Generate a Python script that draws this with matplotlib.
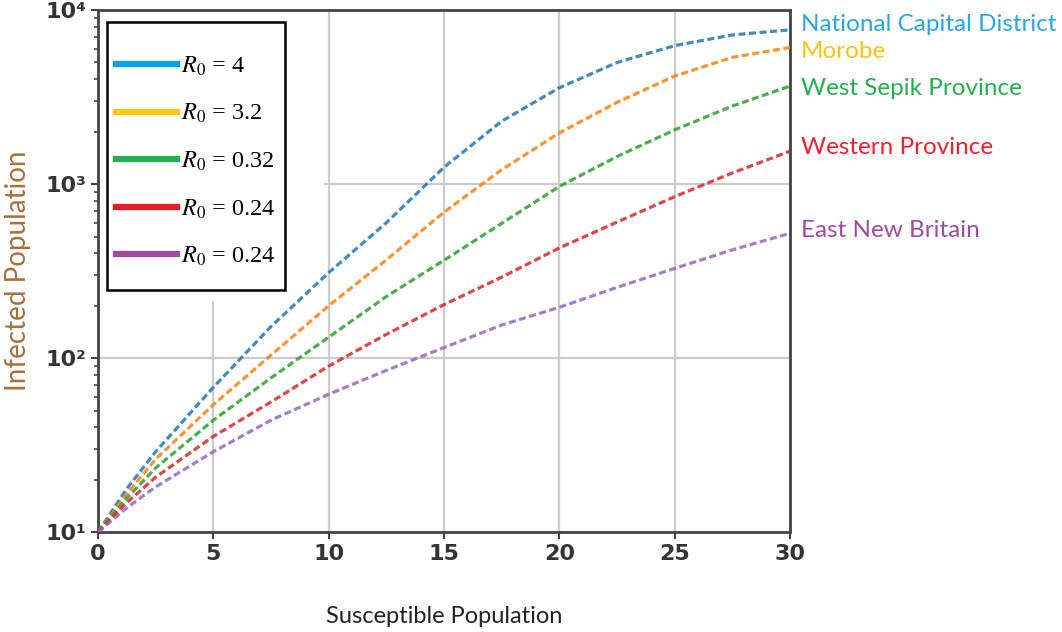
import matplotlib
matplotlib.use("Agg")
import matplotlib.pyplot as plt
from matplotlib.lines import Line2D
from matplotlib.patches import Rectangle

# susceptible population (x) and infected population
susceptible = [0, 1.25, 2.5, 5, 7.5, 10, 12.5, 15, 17.5, 20, 22.5, 25, 27.5, 30]
infected_ncd = [10, 17.8, 29, 68, 152, 310, 600, 1250, 2300, 3580, 5000, 6250, 7200, 7700]
infected_morobe = [10, 16.6, 26.3, 54, 104, 200, 367, 690, 1210, 1970, 2950, 4180, 5350, 6100]
infected_sepik = [10, 15.7, 23.4, 44, 77, 132, 226, 365, 595, 970, 1440, 2050, 2810, 3660]
infected_western = [10, 14.8, 20.7, 35.5, 56, 90, 137, 203, 292, 430, 605, 847, 1160, 1545]
infected_enb = [10, 13.8, 18.2, 29, 44, 62, 85, 115, 155, 196, 255, 328, 419, 522]

provinces = ["National Capital District", "Morobe", "West Sepik Province",
             "Western Province", "East New Britain"]
legend_labels = ["$R_0$ = 4", "$R_0$ = 3.2", "$R_0$ = 0.32", "$R_0$ = 0.24", "$R_0$ = 0.24"]

x_ticks = [0, 5, 10, 15, 20, 25, 30]
y_ticks = [10, 100, 1000, 10000]
y_tick_labels = ["10¹", "10²", "10³", "10⁴"]

serie = [infected_ncd, infected_morobe, infected_sepik, infected_western, infected_enb]
kolory_linii = ["#1f77b4", "#ff7f0e", "#2ca02c", "#d62728", "#9467bd"]
kolory_legendy = ["#00a2e8", "#ffc90e", "#22b14c", "#ed1c24", "#a349a4"]
kolory_tekstu = ["#2aa6e2", "#ffc20e", "#22b14c", "#ff1c2c", "#a349a4"]
przesuniecia = [4, -3, -2, 3, 2]

plt.rcParams["mathtext.fontset"] = "stix"

fig = plt.figure(figsize=(10.62, 6.32), dpi=100)
ax = fig.add_axes([0.0923, 0.158, 0.6516, 0.826])

for y, c in zip(serie, kolory_linii):
    ax.plot(susceptible, y, color=c, lw=2.3, ls=(0, (2.2, 1.1)), alpha=0.85, zorder=3)

ax.set_yscale("log")
ax.set_xlim(0, 30)
ax.set_ylim(10, 10000)
ax.set_xticks(x_ticks)
ax.set_xticklabels([str(t) for t in x_ticks], fontsize=16, fontweight="bold", color="#333333")
ax.set_yticks(y_ticks)
ax.set_yticklabels(y_tick_labels, fontsize=16, fontweight="bold", color="#333333")
ax.tick_params(axis="both", which="major", length=5, width=1.5, color="#444444")
ax.tick_params(axis="y", which="minor", length=3, width=1.2, color="#444444")

ax.set_axisbelow(True)
ax.grid(True, which="major", color="#cccccc", lw=1.6)
# blank area behind the legend (grid hidden there in the original)
ax.add_patch(Rectangle((0, 214), 9.8, 10000, facecolor="white", edgecolor="none", zorder=1))

for s in ax.spines.values():
    s.set_color("#444444")
    s.set_linewidth(2)

ax.set_xlabel("Susceptible Population", fontsize=17, family="Lato", color="#222222", labelpad=30)
ax.set_ylabel("Infected Population", fontsize=20, family="Lato", color="#a8703c", labelpad=10)

for nazwa, y, c, dy in zip(provinces, serie, kolory_tekstu, przesuniecia):
    ax.annotate(nazwa, xy=(susceptible[-1], y[-1]), xytext=(8, dy), textcoords="offset points",
                color=c, fontsize=17.5, family="Lato", va="center", ha="left", annotation_clip=False)

# legend frame drawn separately so the padding can differ per side
ramka = Rectangle((0.013, 0.4636), 0.257, 0.5134, transform=ax.transAxes,
                  facecolor="white", edgecolor="black", lw=1.8, zorder=4)
ax.add_patch(ramka)
uchwyty = [Line2D([0], [0], color=c, lw=4.5) for c in kolory_legendy]
leg = ax.legend(uchwyty, legend_labels, loc="center", bbox_to_anchor=(0.1415, 0.7103),
                frameon=False, prop={"family": "Liberation Serif", "size": 17.5},
                handlelength=2.5, labelspacing=1.0, borderpad=0.2, handletextpad=0.2)
leg.set_zorder(5)

fig.savefig("out.png", dpi=100)
